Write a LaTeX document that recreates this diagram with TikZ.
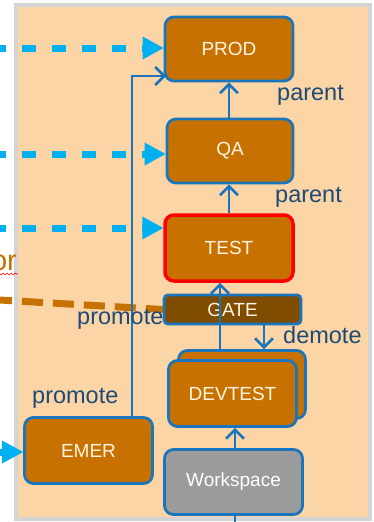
\documentclass[tikz,border=0pt]{standalone}
\usepackage{fontspec}
\setmainfont{Liberation Sans}
\usetikzlibrary{arrows.meta,decorations.pathmorphing}
\definecolor{peach}{HTML}{FBD5A5}
\definecolor{framegray}{HTML}{D4D4D4}
\definecolor{nodeorange}{HTML}{C77200}
\definecolor{gatebrown}{HTML}{7F4C00}
\definecolor{nodeblue}{HTML}{1B75BC}
\definecolor{cyanc}{HTML}{00B0F0}
\definecolor{labelblue}{HTML}{1F4A76}
\definecolor{cream}{HTML}{FFF4E4}
\definecolor{wsgray}{HTML}{9B9B9B}
\tikzset{
  envbox/.style={draw=nodeblue, line width=2.8pt, fill=nodeorange, rounded corners=9pt,
    inner sep=0pt, text=cream, font=\fontsize{19}{22}\selectfont},
  conn/.style={draw=nodeblue, line width=2.6pt, -{Straight Barb[length=9pt,width=18pt]}},
  plainconn/.style={draw=nodeblue, line width=2.6pt},
  cyanarr/.style={draw=cyanc, line width=7pt, dash pattern=on 14pt off 16pt,
    -{Triangle[length=21pt,width=23pt,line width=0pt]}},
  orangedash/.style={draw=nodeorange, line width=7pt, dash pattern=on 21pt off 10pt},
  lbl/.style={anchor=base west, inner sep=0pt, text=labelblue, font=\fontsize{23.5}{26}\selectfont}
}
\begin{document}
\begin{tikzpicture}[x=1pt,y=-1pt]
\useasboundingbox (0,0) rectangle (373,522);
\fill[white] (0,0) rectangle (373,522);
\draw[framegray, line width=4pt, fill=peach] (16,5) rectangle (370,519);

% fragment of text at left
\node[anchor=base east, inner sep=0pt, text=nodeorange, font=\fontsize{29}{30}\selectfont] (ortxt) at (17,270) {or};
\draw[red, line width=0.6pt, decorate, decoration={snake, segment length=4pt, amplitude=1pt}] (-2,274) -- (18,274);

% nodes
\node[envbox, minimum width=128pt, minimum height=64pt] (prod) at (229,49) {PROD};
\node[envbox, minimum width=126pt, minimum height=64pt] (qa) at (230,151) {QA};
\node[envbox, draw=red, line width=3.5pt, minimum width=128pt, minimum height=66pt] (test) at (229,248) {TEST};
\node[envbox, minimum width=128pt, minimum height=66pt] (emer) at (88.5,450.5) {EMER};
\node[envbox, fill=wsgray, text=white, minimum width=138pt, minimum height=65pt] (ws) at (233.5,482) {Workspace};
\node[envbox, minimum width=127pt, minimum height=68pt] (dvb) at (242,384.5) {};
\node[envbox, minimum width=128pt, minimum height=66pt] (dvf) at (232.5,393.5) {DEVTEST};

% cyan incoming arrows
\coordinate (l1) at (-8,48);
\coordinate (l2) at (-8,154);
\coordinate (l3) at (-8,228);
\coordinate (l4) at (-40,452);
\draw[cyanarr] (l1) -- (l1 -| prod.west);
\draw[cyanarr] (l2) -- (l2 -| qa.west);
\draw[cyanarr] (l3) -- (l3 -| test.west);
\draw[cyanarr] (l4) -- (l4 -| emer.west);

% orange dashed line to gate
\coordinate (o1) at (-9,299.5);
\draw[orangedash] (o1) -- (163,309.5);

\node[envbox, fill=gatebrown, rounded corners=4pt, minimum width=137pt, minimum height=29pt] (gate) at (232.5,309.5) {GATE};

% connectors
\draw[conn] (qa.north -| prod.south) -- (prod.south);
\draw[conn] (test.north) -- (test.north |- qa.south);
\coordinate (cx1) at (220,0);
\draw[conn] (cx1 |- dvb.north) -- (cx1 |- test.south);
\coordinate (cx2) at (264,0);
\draw[conn] (cx2 |- gate.south) -- (cx2 |- dvb.north);
\coordinate (cx3) at (235,0);
\draw[conn] (cx3 |- ws.north) -- (cx3 |- dvf.south);
\coordinate (wsin) at (235,530);
\draw[plainconn] (wsin) -- (wsin |- ws.south);
\coordinate (cx4) at (132,0);
\coordinate (pin) at (166,76);
\draw[conn] (cx4 |- emer.north) |- (pin);

% labels
\node[lbl] (par1) at (277,100) {parent};
\node[lbl] (par2) at (275,202) {parent};
\node[lbl] (prom1) at (77,324) {promote};
\node[lbl] (dem) at (283,343) {demote};
\node[lbl] (prom2) at (32,403) {promote};
\end{tikzpicture}
\end{document}
